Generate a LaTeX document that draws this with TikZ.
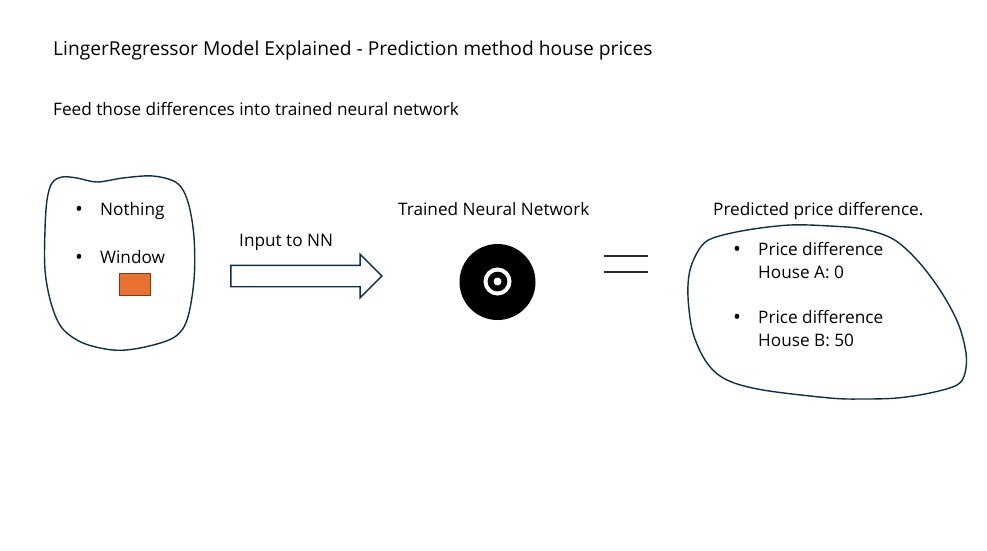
\documentclass[tikz,border=0pt]{standalone}
\usepackage{fontspec}
\setmainfont{Open Sans}
\usetikzlibrary{positioning, shapes, arrows.meta}

\definecolor{blobline}{HTML}{0E2F44}
\definecolor{boxfill}{HTML}{E97132}
\definecolor{boxline}{HTML}{7F3A12}

\tikzset{
  label text/.style={anchor=base west, inner sep=0pt, font=\fontsize{17.2}{20}\selectfont},
  bullet text/.style={anchor=base west, inner sep=0pt, font=\fontsize{21}{20}\selectfont},
  title text/.style={label text, font=\fontsize{19.2}{22}\selectfont},
  blob/.style={draw=blobline, line width=1.4pt},
  equal line/.style={draw=black!85, line width=1.1pt}
}

\begin{document}
\begin{tikzpicture}[x=1pt, y=-1pt]
\useasboundingbox (0,0) rectangle (987,550);

\node[title text] (title) at (53,55.5) {LingerRegressor Model Explained - Prediction method house prices};
\node[label text] (subtitle) at (53,115.5) {Feed those differences into trained neural network};

% input blob
\draw[blob] plot[smooth cycle, tension=0.55] coordinates {(45,230) (47,200) (52,183) (62,177) (77,178) (97,182) (123,178) (153,176) (177,183) (188,202) (194,237) (194,280) (187,320) (173,338) (140,348) (113,350) (83,343) (62,328) (51,303) (45,270)};
\node[bullet text] (nothingdot) at (75,216) {•};
\node[label text] (nothing) at (100,215.5) {Nothing};
\node[bullet text] (windowdot) at (75,264) {•};
\node[label text] (window) at (100,263.5) {Window};
\node[draw=boxline, fill=boxfill, line width=0.9pt, minimum width=31pt, minimum height=22pt, inner sep=0pt] (box) at (135,284) {};

% arrow
\node[label text] (input) at (239,246) {Input to NN};
\node[draw=blobline, line width=1.4pt, shape=single arrow, single arrow head extend=11pt, single arrow head indent=0pt, minimum height=151pt, inner xsep=0pt, inner ysep=10pt] (arrow) at (301,276) {};

% network
\node[label text] (nn) at (398,215.5) {Trained Neural Network};
\node[circle, fill=black, minimum size=76pt, inner sep=0pt] (disc) at (497.5,282) {};
\node[circle, draw=white, line width=4pt, minimum size=24pt, inner sep=0pt] (ring) at (497.5,281.5) {};
\node[circle, fill=white, minimum size=8pt, inner sep=0pt] (dot) at (497.5,281.5) {};

% equals
\coordinate (e1) at (604,256);
\coordinate (e2) at (648,256);
\coordinate (e3) at (604,272);
\coordinate (e4) at (648,272);
\draw[equal line] (e1) -- (e2);
\draw[equal line] (e3) -- (e4);

% output blob
\node[label text] (pred) at (713,215.5) {Predicted price difference.};
\draw[blob] plot[smooth cycle, tension=0.55] coordinates {(688,297) (690,270) (700,248) (713,238) (747,230) (790,225) (830,226) (863,229) (893,239) (917,260) (940,290) (958,323) (966,353) (965,373) (957,385) (930,393) (897,398) (863,399) (830,398) (763,390) (727,380) (707,363) (693,333)};
\node[bullet text] (housedot1) at (733,256) {•};
\node[label text] (house1a) at (758,255.5) {Price difference};
\node[label text] (house1b) at (758,278.5) {House A: 0};
\node[bullet text] (housedot2) at (733,324) {•};
\node[label text] (house2a) at (758,323.5) {Price difference};
\node[label text] (house2b) at (758,346.5) {House B: 50};
\end{tikzpicture}
\end{document}
